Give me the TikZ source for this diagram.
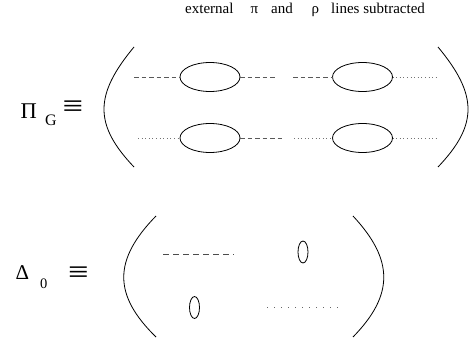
\documentclass[tikz,border=0pt]{standalone}
\usepackage{fontspec}
\setmainfont{Liberation Serif}
\usetikzlibrary{shapes.geometric}
\begin{document}
\begin{tikzpicture}[x=1pt,y=-1pt,
  bubble/.style={draw,ellipse,line width=0.8pt,inner sep=0pt,outer sep=0pt,minimum width=60pt,minimum height=29pt},
  tadpole/.style={draw,ellipse,line width=0.8pt,inner sep=0pt,outer sep=0pt,minimum width=10pt,minimum height=22pt},
  pionline/.style={line width=0.8pt,black!65,dash pattern=on 4.5pt off 3pt},
  rholine/.style={line width=0.8pt,black!55,dash pattern=on 0.8pt off 2.8pt},
  pionwide/.style={line width=0.8pt,black!70,dash pattern=on 5.5pt off 4.5pt},
  rhowide/.style={line width=0.8pt,black!60,dash pattern=on 0.8pt off 6.2pt},
  paren/.style={line width=0.8pt},
  lbl/.style={inner sep=0pt,anchor=base west},
  equiv/.style={inner sep=0pt,anchor=center,font=\fontsize{26}{28}\selectfont}]
\useasboundingbox (0,0) rectangle (470,342);

% heading
\node[lbl,font=\fontsize{15}{17}\selectfont] (head) at (185,13.5)
  {external\hspace{17pt}π\hspace{13pt}and\hspace{19pt}ρ\hspace{12pt}lines subtracted};

% Pi_G definition
\node[lbl,font=\fontsize{22.5}{24}\selectfont] (Pi) at (20.5,118) {Π};
\node[lbl,font=\fontsize{16}{18}\selectfont] (G) at (45,125) {G};
\node[equiv] (eqA) at (73,109) {\scalebox{1.4}[1.2]{≡}};

\draw[paren] (134,47) .. controls (94,95) and (94,125) .. (134,167);
\draw[paren] (438,47) .. controls (478,95) and (478,125) .. (438,167);

\node[bubble] (e1) at (210,77) {};
\node[bubble] (e2) at (362.5,77) {};
\node[bubble] (e3) at (210,138) {};
\node[bubble] (e4) at (362.5,138) {};

\coordinate (t0) at (134,77);
\coordinate (t1) at (277,77);
\coordinate (t2) at (293,77);
\coordinate (t3) at (437,77);
\coordinate (b0) at (138,138);
\coordinate (b1) at (285,138);
\coordinate (b2) at (294,138);
\coordinate (b3) at (437,138);

\draw[pionline] (t0) -- (e1.west);
\draw[pionline] (e1.east) -- (t1);
\draw[pionline] (t2) -- (e2.west);
\draw[rholine] (e2.east) -- (t3);
\draw[rholine] (b0) -- (e3.west);
\draw[pionline] (e3.east) -- (b1);
\draw[rholine] (b2) -- (e4.west);
\draw[rholine] (e4.east) -- (b3);

% Delta_0 definition
\node[lbl,font=\fontsize{21}{23}\selectfont] (Delta) at (15.5,279) {Δ};
\node[lbl,font=\fontsize{14.5}{16}\selectfont] (zero) at (40,288) {0};
\node[equiv] (eqB) at (78.5,275) {\scalebox{1.4}[1.2]{≡}};

\draw[paren] (156,216) .. controls (113,260) and (113,295) .. (156,337);
\draw[paren] (353,216) .. controls (394,260) and (394,295) .. (353,337);

\coordinate (d0) at (163,254);
\coordinate (d1) at (234,254);
\draw[pionwide] (d0) -- (d1);
\node[tadpole] (s1) at (303,252) {};
\node[tadpole] (s2) at (194.5,307.5) {};
\coordinate (r0) at (267,307);
\coordinate (r1) at (339,307);
\draw[rhowide] (r0) -- (r1);
\end{tikzpicture}
\end{document}
